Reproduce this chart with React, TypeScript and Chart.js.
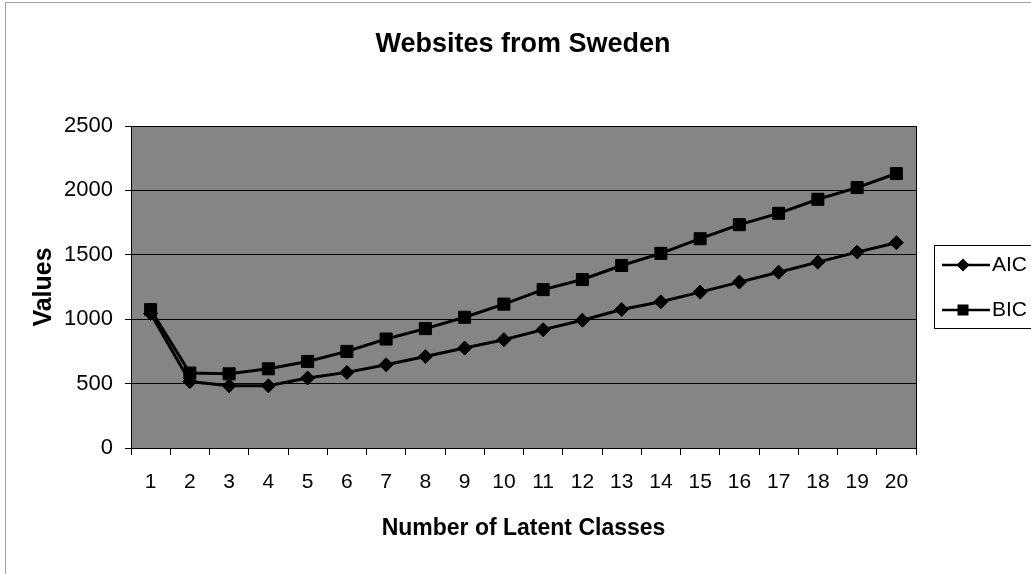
import React, { useEffect, useRef } from 'react';
import { Chart, registerables } from 'chart.js';

Chart.register(...registerables);

const categories = ['1', '2', '3', '4', '5', '6', '7', '8', '9', '10', '11', '12', '13', '14', '15', '16', '17', '18', '19', '20'];
const aicValues = [1045, 516, 483, 483, 543, 587, 646, 711, 776, 841, 919, 992, 1075, 1135, 1210, 1288, 1365, 1443, 1521, 1594];
const bicValues = [1075, 582, 576, 615, 672, 750, 846, 927, 1015, 1117, 1230, 1308, 1417, 1511, 1625, 1734, 1822, 1931, 2022, 2131];
const yTicks = [0, 500, 1000, 1500, 2000, 2500];
const seriesNames = ['AIC', 'BIC'];
const chartTitle = 'Websites from Sweden';
const xTitle = 'Number of Latent Classes';
const yTitle = 'Values';

const FONT = "'Liberation Sans', Arial, Helvetica, sans-serif";

export default function App() {
  const ref = useRef<HTMLCanvasElement>(null);

  useEffect(() => {
    document.body.style.margin = '0';
    const canvas = ref.current;
    if (!canvas) return;

    const decor = {
      id: 'decor',
      beforeDraw(chart: any) {
        const { ctx, chartArea: a } = chart;
        ctx.save();
        ctx.fillStyle = '#ffffff';
        ctx.fillRect(0, 0, chart.width, chart.height);
        ctx.strokeStyle = '#a0a0a0';
        ctx.lineWidth = 1;
        ctx.strokeRect(5.5, 2.5, chart.width + 20, chart.height + 20);
        ctx.fillStyle = '#858585';
        ctx.fillRect(a.left, a.top, a.right - a.left, a.bottom - a.top);
        ctx.restore();
      },
      afterDraw(chart: any) {
        const { ctx, chartArea: a } = chart;
        ctx.save();
        ctx.strokeStyle = '#000';
        ctx.lineWidth = 1;
        ctx.strokeRect(Math.round(a.left) + 0.5, Math.round(a.top) + 0.5, Math.round(a.right - a.left), Math.round(a.bottom - a.top));
        ctx.fillStyle = '#000';
        ctx.font = `bold 27px ${FONT}`;
        ctx.textAlign = 'center';
        ctx.textBaseline = 'middle';
        ctx.fillText(chartTitle, 523, 45);
        const lx = 934.5, ly = 245.5;
        ctx.fillStyle = '#fff';
        ctx.fillRect(lx, ly, 120, 83);
        ctx.strokeStyle = '#000';
        ctx.strokeRect(lx, ly, 120, 83);
        const rows = [265, 310];
        chart.data.datasets.forEach((ds: any, i: number) => {
          const y = rows[i];
          ctx.strokeStyle = '#000';
          ctx.lineWidth = 2.5;
          ctx.beginPath();
          ctx.moveTo(942, y);
          ctx.lineTo(990, y);
          ctx.stroke();
          ctx.fillStyle = '#000';
          ctx.beginPath();
          if (ds.pointStyle === 'rectRot') {
            const r = 6.5;
            ctx.moveTo(963 - r, y);
            ctx.lineTo(963, y - r);
            ctx.lineTo(963 + r, y);
            ctx.lineTo(963, y + r);
            ctx.closePath();
          } else {
            ctx.rect(963 - 5.5, y - 5.5, 11, 11);
          }
          ctx.fill();
          ctx.font = `21px ${FONT}`;
          ctx.textAlign = 'left';
          ctx.textBaseline = 'middle';
          ctx.fillText(ds.label, 992, y);
        });
        ctx.restore();
      },
    };

    const chart = new Chart(canvas, {
      type: 'line',
      data: {
        labels: categories,
        datasets: [
          {
            label: seriesNames[0],
            data: aicValues,
            borderColor: '#000',
            backgroundColor: '#000',
            borderWidth: 3,
            pointStyle: 'rectRot',
            pointRadius: 7,
            pointBorderWidth: 1,
            pointBackgroundColor: '#000',
            pointBorderColor: '#000',
            tension: 0,
          },
          {
            label: seriesNames[1],
            data: bicValues,
            borderColor: '#000',
            backgroundColor: '#000',
            borderWidth: 3,
            pointStyle: 'rect',
            pointRadius: 8.5,
            pointBorderWidth: 1,
            pointBackgroundColor: '#000',
            pointBorderColor: '#000',
            tension: 0,
          },
        ],
      },
      options: {
        responsive: false,
        animation: false,
        layout: { padding: { top: 126, right: 115, left: 0, bottom: 0 } },
        plugins: {
          legend: { display: false },
          title: { display: false },
          tooltip: { enabled: false },
        },
        scales: {
          x: {
            type: 'category',
            offset: true,
            ticks: {
              color: '#000',
              font: { family: FONT, size: 21 },
              padding: 15,
              maxRotation: 0,
              autoSkip: false,
            },
            grid: {
              offset: true,
              drawOnChartArea: false,
              drawTicks: true,
              tickLength: 7,
              color: '#000',
            },
            border: { color: '#000', width: 1 },
            title: {
              display: true,
              text: xTitle,
              color: '#000',
              font: { family: FONT, size: 23, weight: 'bold' },
              padding: { top: 0, bottom: 32 },
            },
            afterFit(scale: any) {
              scale.height = 126;
            },
          },
          y: {
            min: 0,
            max: 2500,
            afterBuildTicks(scale: any) {
              scale.ticks = yTicks.map((v) => ({ value: v }));
            },
            ticks: {
              color: '#000',
              font: { family: FONT, size: 22 },
              padding: 12,
              callback: (v: any) => String(v),
            },
            grid: {
              color: '#000',
              lineWidth: 1,
              drawTicks: true,
              tickLength: 6,
            },
            border: { color: '#000', width: 1 },
            title: {
              display: true,
              text: yTitle,
              color: '#000',
              font: { family: FONT, size: 25, weight: 'bold' },
              padding: { top: 29, bottom: 0 },
            },
            afterFit(scale: any) {
              scale.width = 131;
            },
          },
        },
      },
      plugins: [decor],
    });

    return () => {
      chart.destroy();
    };
  }, []);

  return (
    <div style={{ width: 1031, height: 574 }}>
      <canvas ref={ref} width={1031} height={574} style={{ display: 'block' }} />
    </div>
  );
}
